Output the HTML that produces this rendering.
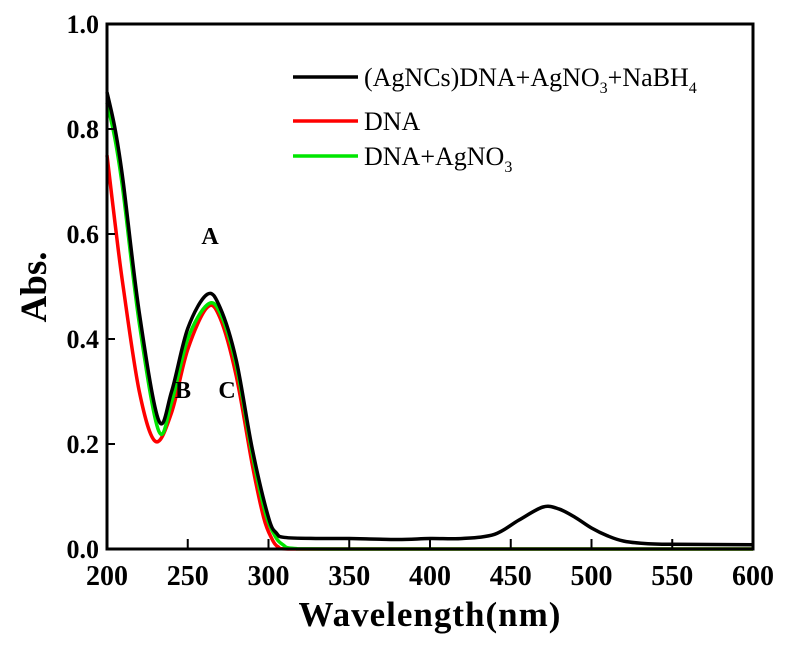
<!DOCTYPE html>
<html><head><meta charset="utf-8"><style>
body{margin:0;background:#fff;}
svg text{font-family:"Liberation Serif",serif;}
</style></head><body>
<svg id="chart" width="800" height="642"></svg>
<script>
const xTicks=[200,250,300,350,400,450,500,550,600];
const yTicks=[0.0,0.2,0.4,0.6,0.8,1.0];
const wlBlack=[200,205,210,220,232,240,250,262,270,280,290,300,305,310,330,350,380,400,420,440,455,470,480,490,500,510,520,535,550,600];
const absBlack=[0.87,0.80,0.70,0.45,0.245,0.30,0.42,0.485,0.46,0.36,0.19,0.06,0.03,0.022,0.02,0.02,0.018,0.02,0.02,0.028,0.055,0.08,0.076,0.06,0.04,0.025,0.015,0.01,0.009,0.008];
const wlRed=[200,205,210,220,230,240,250,262,270,280,290,297,302,306,312,350,600];
const absRed=[0.75,0.62,0.50,0.30,0.205,0.26,0.38,0.46,0.44,0.33,0.16,0.06,0.02,0.004,0,0,0];
const wlGreen=[200,205,210,220,232,240,250,262,270,280,290,298,304,309,316,350,600];
const absGreen=[0.85,0.78,0.68,0.43,0.225,0.28,0.40,0.465,0.45,0.35,0.18,0.07,0.025,0.008,0.001,0,0];
const legendLabels=["(AgNCs)DNA+AgNO3+NaBH4","DNA","DNA+AgNO3"];

const NS="http://www.w3.org/2000/svg";
const svg=document.getElementById('chart');
const X0=107,X1=753,Y0=549,Y1=24;
const sx=v=>X0+(v-200)/400*(X1-X0);
const sy=v=>Y0-v*(Y0-Y1);
function el(t,a,p){const e=document.createElementNS(NS,t);for(const k in a)e.setAttribute(k,a[k]);(p||svg).appendChild(e);return e;}
function smooth(xs,ys){const p=xs.map((x,i)=>[sx(x),sy(ys[i])]);let d="M"+p[0][0]+","+p[0][1];
for(let i=0;i<p.length-1;i++){const a=p[i-1]||p[i],b=p[i],c=p[i+1],e=p[i+2]||c;
const c1y=Math.min(Y0,b[1]+(c[1]-a[1])/6),c2y=Math.min(Y0,c[1]-(e[1]-b[1])/6);
d+=" C"+(b[0]+(c[0]-a[0])/6)+","+c1y+" "+(c[0]-(e[0]-b[0])/6)+","+c2y+" "+c[0]+","+c[1];}return d;}

const series=[[wlRed,absRed,"#ff0000","red-dna-curve"],[wlGreen,absGreen,"#00e600","green-dna-agno3-curve"],[wlBlack,absBlack,"#000","black-agncs-curve"]];
series.forEach(s=>{const e=el('path',{d:smooth(s[0],s[1]),fill:'none',stroke:s[2],'stroke-width':3.5,'stroke-linejoin':'round'});

});

const frame=el('rect',{x:X0,y:Y1,width:X1-X0,height:Y0-Y1,fill:'none',stroke:'#000','stroke-width':3});



xTicks.forEach(v=>{const x=sx(v);
const t=el('line',{x1:x,y1:Y0,x2:x,y2:Y0-10,stroke:'#000','stroke-width':2});


const l=el('text',{x:x,y:Y0+36,'text-anchor':'middle','font-size':28,'font-weight':'bold'});l.textContent=v;

});
yTicks.forEach(v=>{const y=sy(v);
const t=el('line',{x1:X0,y1:y,x2:X0+8,y2:y,stroke:'#000','stroke-width':2});


const l=el('text',{x:X0-8,y:y+9,'text-anchor':'end','font-size':26,'font-weight':'bold'});l.textContent=v.toFixed(1);

});

const xt=el('text',{x:430,y:626,'text-anchor':'middle','font-size':35,'font-weight':'bold','letter-spacing':1});xt.textContent="Wavelength(nm)";


const yt=el('text',{x:0,y:0,'text-anchor':'middle','font-size':37,'font-weight':'bold',transform:'translate(46,287) rotate(-90)'});yt.textContent="Abs.";



[["A",210,244],["B",183,398],["C",227,398]].forEach(a=>{const t=el('text',{x:a[1],y:a[2],'text-anchor':'middle','font-size':24,'font-weight':'bold'});t.textContent=a[0];

});

const cols=["#000","#ff0000","#00e600"],ly=[77,121,156];
legendLabels.forEach((lab,i)=>{
const ln=el('line',{x1:293,y1:ly[i],x2:358,y2:ly[i],stroke:cols[i],'stroke-width':3.5});


const t=el('text',{x:364,y:ly[i]+9,'font-size':26});


let sub=false;
lab.split(/(\d)/).forEach(p=>{if(!p)return;const isD=/\d/.test(p);
const a={};if(isD){a['font-size']=16;a.dy=7;}else if(sub){a.dy=-7;}
const ts=el('tspan',a,t);ts.textContent=p;sub=isD;});
});
</script>
</body></html>
